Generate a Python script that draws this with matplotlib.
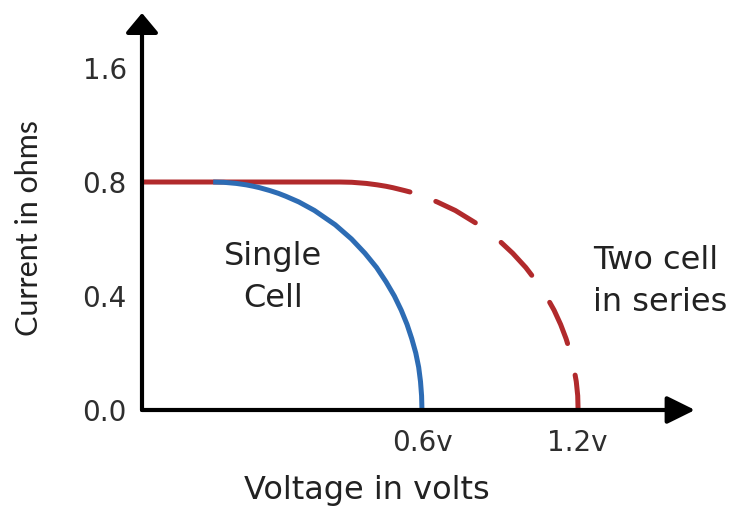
import matplotlib
matplotlib.use("Agg")
import matplotlib.pyplot as plt

plt.rcParams['font.family'] = ['DejaVu Sans']

# single cell curve (voltage, current)
single_v = [0.196, 0.225, 0.260, 0.287, 0.307, 0.324, 0.352, 0.376, 0.396, 0.432, 0.475, 0.532,
            0.577, 0.614, 0.646, 0.672, 0.695, 0.714, 0.730, 0.743, 0.754, 0.762, 0.767, 0.770, 0.771]
single_i = [0.800, 0.799, 0.795, 0.790, 0.785, 0.780, 0.770, 0.760, 0.750, 0.730, 0.700, 0.650,
            0.600, 0.550, 0.500, 0.450, 0.400, 0.350, 0.300, 0.250, 0.200, 0.150, 0.100, 0.050, 0.000]

# two cells in series: solid flat part, then dashed knee
series_solid_v = [0.000, 0.545, 0.578, 0.618, 0.648, 0.672, 0.691, 0.723, 0.738]
series_solid_i = [0.800, 0.800, 0.799, 0.795, 0.790, 0.785, 0.780, 0.770, 0.765]
series_dash_v = [0.738, 0.750, 0.773, 0.813, 0.863, 0.927, 0.979, 1.021, 1.057, 1.087,
                 1.113, 1.135, 1.153, 1.168, 1.180, 1.189, 1.196, 1.200, 1.201]
series_dash_i = [0.765, 0.760, 0.750, 0.730, 0.700, 0.650, 0.600, 0.550, 0.500, 0.450,
                 0.400, 0.350, 0.300, 0.250, 0.200, 0.150, 0.100, 0.050, 0.000]

ytick_pos = [0.0, 0.4, 0.8, 1.2]
ytick_labels = ['0.0', '0.4', '0.8', '1.6']
xtick_pos = [0.771, 1.2]
xtick_labels = ['0.6v', '1.2v']

blue = '#2d6cb4'
red = '#b12a2c'
txt = '#222222'

fig = plt.figure(figsize=(7.41, 5.18), dpi=100)
ax = fig.add_axes([142 / 741, 108 / 518, 553 / 741, 397 / 518])
ax.set_xlim(0, 1.523)
ax.set_ylim(0, 1.393)
for s in ax.spines.values():
    s.set_visible(False)

ax.plot(single_v, single_i, color=blue, lw=3.6, solid_capstyle='butt', zorder=3)
ax.plot(series_solid_v, series_solid_i, color=red, lw=3.6, solid_capstyle='round', zorder=2)
ax.plot(series_dash_v, series_dash_i, color=red, lw=3.6, linestyle=(10, (9, 6.5)),
        dash_capstyle='round', zorder=2)

# axes with arrow heads
ax.annotate('', xy=(1, 0), xytext=(0, 0), xycoords='axes fraction',
            arrowprops=dict(arrowstyle='-|>,head_length=0.85,head_width=0.42', lw=3, color='black',
                            shrinkA=0, shrinkB=0, mutation_scale=20), zorder=4)
ax.annotate('', xy=(0, 1), xytext=(0, 0), xycoords='axes fraction',
            arrowprops=dict(arrowstyle='-|>,head_length=0.6,head_width=0.5', lw=3, color='black',
                            shrinkA=0, shrinkB=0, mutation_scale=20), zorder=4)

ax.set_yticks(ytick_pos, ytick_labels)
ax.set_xticks(xtick_pos, xtick_labels)
ax.tick_params(axis='y', length=0, pad=11, labelsize=20, labelcolor='#2e2e2e')
ax.tick_params(axis='x', length=0, pad=14, labelsize=20, labelcolor='#2e2e2e')

fig.text(367 / 741, 1 - 490 / 518, 'Voltage in volts', ha='center', va='center', fontsize=23, color=txt)
fig.text(29 / 741, 1 - 228 / 518, 'Current in ohms', ha='center', va='center', rotation=90,
         fontsize=22, color=txt, family=['Lato', 'DejaVu Sans'])

ax.text(0.36, 0.465, 'Single\nCell', ha='center', va='center', fontsize=23, color=txt, linespacing=1.45)
ax.text(1.243, 0.45, 'Two cell\nin series', ha='left', va='center', fontsize=23, color=txt, linespacing=1.45)

fig.savefig('out.png', dpi=100)
